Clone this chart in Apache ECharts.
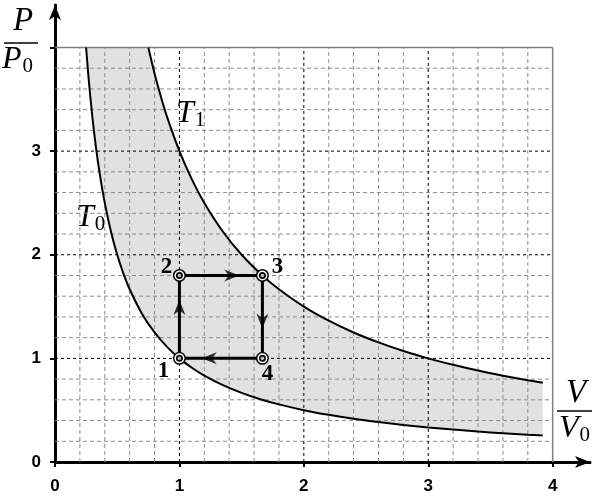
<!DOCTYPE html>
<html><head><meta charset="utf-8">
<script src="https://cdn.jsdelivr.net/npm/echarts@6/dist/echarts.min.js"></script>
<style>html,body{margin:0;padding:0;background:#fff}#c{width:598px;height:498px}</style>
</head><body><div id="c"></div><script>
// Isotherm T0
const vT0 = [0.25,0.27,0.3,0.33,0.36,0.4,0.45,0.5,0.55,0.6,0.7,0.8,0.9,1,1.1,1.2,1.35,1.5,1.65,1.8,2,2.2,2.4,2.6,2.8,3,3.2,3.4,3.6,3.8,3.92];
const pT0 = [4,3.704,3.333,3.030,2.778,2.5,2.222,2,1.818,1.667,1.429,1.25,1.111,1,0.909,0.833,0.741,0.667,0.606,0.556,0.5,0.455,0.417,0.385,0.357,0.333,0.313,0.294,0.278,0.263,0.255];
// Isotherm T1
const vT1 = [0.75,0.8,0.85,0.9,1,1.1,1.2,1.35,1.5,1.667,1.8,2,2.2,2.4,2.6,2.8,3,3.2,3.4,3.6,3.8,3.92];
const pT1 = [4,3.75,3.529,3.333,3,2.727,2.5,2.222,2,1.8,1.667,1.5,1.364,1.25,1.154,1.071,1,0.938,0.882,0.833,0.789,0.765];
// Cycle 1-2-3-4
const stateNames = ['1','2','3','4'];
const stateV = [1,1,1.667,1.667];
const stateP = [1,1.8,1.8,1];
// Arrow heads on the cycle
const arrowV = [1,1.42,1.667,1.24];
const arrowP = [1.49,1.8,1.36,1];
const arrowRot = [0,-90,180,90];
// Axis ticks
const xTicks = [0,1,2,3,4];
const xLabels = [0,1,2,3,4];
const yTicks = [0,1,2,3,4];
const yLabels = [0,1,2,3];
// Grid lines
const minorLines = [0.2,0.4,0.6,0.8,1.2,1.4,1.6,1.8,2.2,2.4,2.6,2.8,3.2,3.4,3.6,3.8];
const majorLines = [1,2,3];
const borderLines = [4];

const SERIF = 'Liberation Serif';
const SANS = 'Liberation Sans';

const zip = (a,b)=>a.map((v,i)=>[v,b[i]]);
const gridData = [];
minorLines.forEach(v=>{gridData.push([0,v,0]);gridData.push([1,v,0]);});
majorLines.forEach(v=>{gridData.push([0,v,1]);gridData.push([1,v,1]);});
borderLines.forEach(v=>{gridData.push([0,v,2]);gridData.push([1,v,2]);});

const gridStyles = [
  {stroke:'#8c8c8c',lineWidth:1,lineDash:[4,3]},
  {stroke:'#000',lineWidth:1,lineDash:[3,3]},
  {stroke:'#808080',lineWidth:1.5}
];

const chart = echarts.init(document.getElementById('c'));
const axisCommon = {
  type:'value', min:0,
  axisLine:{show:true,onZero:false,lineStyle:{color:'#000',width:3},symbol:['none','arrow'],symbolSize:[9,15]},
  splitLine:{show:false},
  axisLabel:{color:'#000',fontWeight:'bold',fontFamily:SANS,fontSize:17},
  axisTick:{show:true,length:5,lineStyle:{color:'#000',width:2}}
};
const big = {fontStyle:'italic',fontSize:32,fontFamily:SERIF,fill:'#000'};
const sub = {fontStyle:'normal',fontSize:21,fontFamily:SERIF,fill:'#000',padding:[12,0,0,1]};
function frac(text){ return {text:text,rich:{a:big,b:sub},fill:'#000'}; }
chart.setOption({
  animation:false,
  grid:{left:55,right:8,top:5,bottom:36},
  xAxis:Object.assign({},axisCommon,{max:4.3,
    axisTick:Object.assign({},axisCommon.axisTick,{customValues:xTicks}),
    axisLabel:Object.assign({},axisCommon.axisLabel,{customValues:xLabels,margin:16})}),
  yAxis:Object.assign({},axisCommon,{max:4.41,
    axisTick:Object.assign({},axisCommon.axisTick,{customValues:yTicks}),
    axisLabel:Object.assign({},axisCommon.axisLabel,{customValues:yLabels,margin:14})}),
  series:[
    {type:'custom',name:'fill',z:1,data:[[0,0]],silent:true,
     renderItem:function(params,api){
       const pts=[];
       for(let i=0;i<vT1.length;i++) pts.push(api.coord([vT1[i],pT1[i]]));
       for(let i=vT0.length-1;i>=0;i--) pts.push(api.coord([vT0[i],pT0[i]]));
       return {type:'polygon',shape:{points:pts},style:{fill:'#e1e1e1'}};
     }},
    {type:'custom',name:'grid',z:2,data:gridData,silent:true,
     renderItem:function(params,api){
       const o=api.value(0),v=api.value(1),k=api.value(2);
       const a=o===0?api.coord([v,0]):api.coord([0,v]);
       const b=o===0?api.coord([v,4]):api.coord([4,v]);
       return {type:'line',shape:{x1:a[0],y1:a[1],x2:b[0],y2:b[1]},style:gridStyles[k]};
     }},
    {type:'line',name:'T0',z:3,data:zip(vT0,pT0),smooth:0.3,symbol:'none',lineStyle:{color:'#000',width:2}},
    {type:'line',name:'T1',z:3,data:zip(vT1,pT1),smooth:0.3,symbol:'none',lineStyle:{color:'#000',width:2}},
    {type:'line',name:'cycle',z:4,data:zip(stateV.concat([stateV[0]]),stateP.concat([stateP[0]])),symbol:'none',lineStyle:{color:'#000',width:3}},
    {type:'scatter',name:'arrows',z:5,data:arrowV.map((v,i)=>({value:[v,arrowP[i]],symbolRotate:arrowRot[i]})),
     symbol:'path://M0,0 L6,13 L0,9 L-6,13 Z',symbolSize:[12,15],itemStyle:{color:'#000'}},
    {type:'custom',name:'states',z:6,data:stateV.map((v,i)=>[v,stateP[i],i]),
     renderItem:function(params,api){
       const c=api.coord([api.value(0),api.value(1)]);
       const i=api.value(2);
       const offs=[[-16,13],[-13,-8],[15,-8],[5,16]];
       return {type:'group',children:[
         {type:'circle',shape:{cx:c[0],cy:c[1],r:6.5},style:{fill:'#000'}},
         {type:'circle',shape:{cx:c[0],cy:c[1],r:5},style:{fill:'#fff'}},
         {type:'circle',shape:{cx:c[0],cy:c[1],r:3.5},style:{fill:'#000'}},
         {type:'circle',shape:{cx:c[0],cy:c[1],r:1.8},style:{fill:'#bbb'}},
         {type:'text',x:c[0]+offs[i][0],y:c[1]+offs[i][1],style:{text:stateNames[i],fontFamily:SERIF,fontWeight:'bold',fontSize:23,fill:'#000',align:'center',verticalAlign:'middle'}}
       ]};
     }}
  ],
  graphic:[
    {type:'text',left:13,top:5,style:{text:'P',fontStyle:'italic',fontSize:33,fontFamily:SERIF,fill:'#000'}},
    {type:'line',shape:{x1:4,y1:43,x2:38,y2:43},style:{stroke:'#000',lineWidth:1.5}},
    {type:'text',left:2,top:44,style:frac('{a|P}{b|0}')},
    {type:'text',left:566,top:377,style:{text:'V',fontStyle:'italic',fontSize:33,fontFamily:SERIF,fill:'#000'}},
    {type:'line',shape:{x1:557,y1:411,x2:592,y2:411},style:{stroke:'#000',lineWidth:1.5}},
    {type:'text',left:559,top:413,style:frac('{a|V}{b|0}')},
    {type:'text',left:176,top:98,style:frac('{a|T}{b|1}')},
    {type:'text',left:76,top:202,style:frac('{a|T}{b|0}')}
  ]
});
</script></body></html>
